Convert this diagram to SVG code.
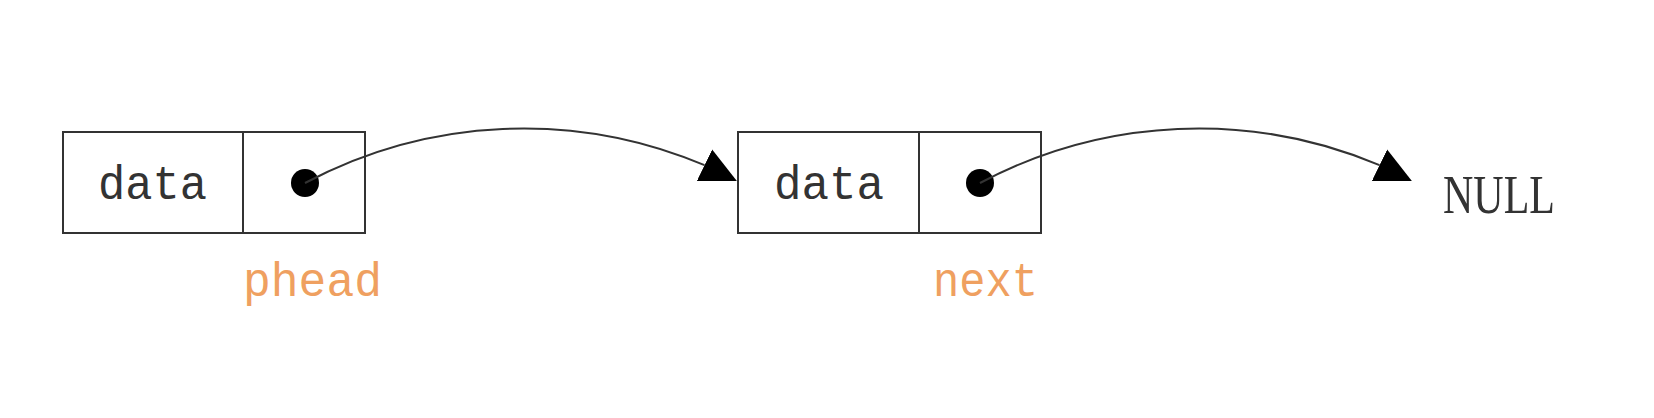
<svg xmlns="http://www.w3.org/2000/svg" width="1654" height="418" viewBox="0 0 1654 418">
  <style>
    .box { fill: #ffffff; stroke: #333333; stroke-width: 2; }
    .div { stroke: #333333; stroke-width: 2; }
    .dot { fill: #000000; }
    .lbl { font-family: "Liberation Mono", "DejaVu Sans Mono", monospace; font-size: 48px; fill: #333333; }
    .ptr { font-family: "Liberation Mono", "DejaVu Sans Mono", monospace; font-size: 48px; fill: #EFA060; }
    .null { font-family: "Liberation Serif", "DejaVu Serif", serif; font-size: 55px; fill: #333333; }
    .edge { fill: none; stroke: #333333; stroke-width: 2; }
  </style>
  <defs>
    <marker id="tri" viewBox="0 -20 40 40" refX="0" refY="0" markerWidth="40" markerHeight="40" markerUnits="userSpaceOnUse" orient="26">
      <polygon points="0,-17.5 36,0 0,17.5" fill="#000000"/>
    </marker>
  </defs>
  <rect width="1654" height="418" fill="#ffffff"/>
  <g id="node1">
    <rect class="box" x="63" y="132" width="302" height="101"/>
    <line class="div" x1="243" y1="132" x2="243" y2="233"/>
    <text class="lbl" x="98" y="199" textLength="109" lengthAdjust="spacingAndGlyphs">data</text>
    <circle class="dot" cx="305" cy="183" r="14"/>
  </g>
  <g id="node2">
    <rect class="box" x="738" y="132" width="303" height="101"/>
    <line class="div" x1="919" y1="132" x2="919" y2="233"/>
    <text class="lbl" x="774" y="199" textLength="110" lengthAdjust="spacingAndGlyphs">data</text>
    <circle class="dot" cx="980" cy="183" r="14"/>
  </g>
  <g id="null">
    <text class="null" x="1443" y="213" textLength="112" lengthAdjust="spacingAndGlyphs">NULL</text>
  </g>
  <g id="label-phead">
    <text class="ptr" x="243" y="296" textLength="139" lengthAdjust="spacingAndGlyphs">phead</text>
  </g>
  <g id="label-next">
    <text class="ptr" x="933" y="296" textLength="105" lengthAdjust="spacingAndGlyphs">next</text>
  </g>
  <g id="connectors">
    <path class="edge" d="M305,183 A464.8,464.8 0 0 1 704.5,165.2" marker-end="url(#tri)"/>
    <path class="edge" d="M980,183 A464.8,464.8 0 0 1 1379.5,165.2" marker-end="url(#tri)"/>
  </g>
</svg>
